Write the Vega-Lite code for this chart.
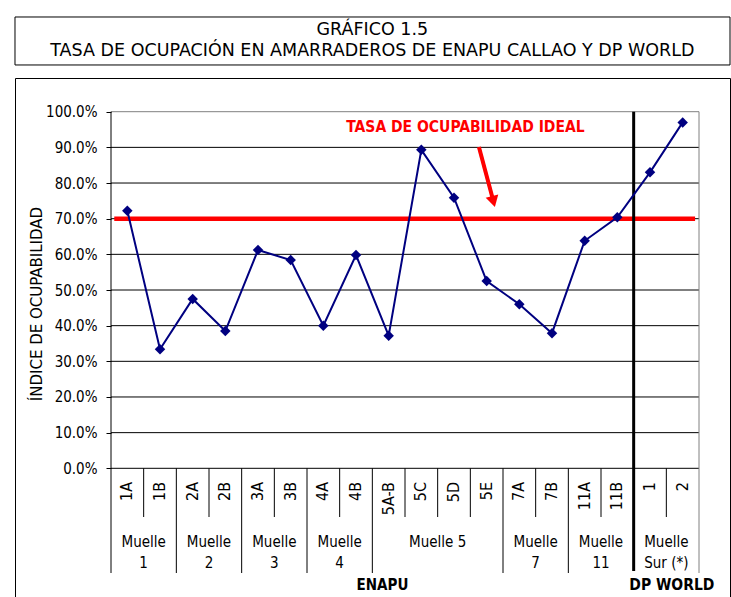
{
  "$schema": "https://vega.github.io/schema/vega-lite/v6.json",
  "autosize": {"type": "none"},
  "padding": {"left": 15, "top": 78, "right": 1, "bottom": 0},
  "config": {"view": {"stroke": "#000000", "strokeWidth": 1}, "font": "DejaVu Sans Condensed"},
  "datasets": {
    "rates": [
      {"berth": "1A", "rate": 0.722}, {"berth": "1B", "rate": 0.334},
      {"berth": "2A", "rate": 0.475}, {"berth": "2B", "rate": 0.385},
      {"berth": "3A", "rate": 0.612}, {"berth": "3B", "rate": 0.584},
      {"berth": "4A", "rate": 0.400}, {"berth": "4B", "rate": 0.598},
      {"berth": "5A-B", "rate": 0.372}, {"berth": "5C", "rate": 0.893},
      {"berth": "5D", "rate": 0.759}, {"berth": "5E", "rate": 0.525},
      {"berth": "7A", "rate": 0.460}, {"berth": "7B", "rate": 0.379},
      {"berth": "11A", "rate": 0.638}, {"berth": "11B", "rate": 0.704},
      {"berth": "1", "rate": 0.830}, {"berth": "2", "rate": 0.970}
    ]
  },
  "width": 715,
  "height": 520,
  "layer": [
    {
      "data": {"values": [{"tick": 0}, {"tick": 0.1}, {"tick": 0.2}, {"tick": 0.3}, {"tick": 0.4}, {"tick": 0.5}, {"tick": 0.6}, {"tick": 0.7}, {"tick": 0.8}, {"tick": 0.9}]},
      "mark": {"type": "rule", "color": "#000000", "strokeWidth": 1},
      "encoding": {
        "y": {"field": "tick", "type": "quantitative",
              "scale": {"domain": [-0.3637, 1.0945], "nice": false, "zero": false},
              "axis": {"values": [0, 0.1, 0.2, 0.3, 0.4, 0.5, 0.6, 0.7, 0.8, 0.9, 1], "format": ".1%", "offset": -96, "grid": false, "domain": false,
                       "tickColor": "#000000", "tickSize": 5, "labelFont": "DejaVu Sans Condensed", "labelFontSize": 15, "labelColor": "#000000", "labelPadding": 9, "title": null}},
        "x": {"datum": "1A", "type": "nominal", "bandPosition": 0, "axis": null,
              "scale": {"type": "band", "domain": ["1A", "1B", "2A", "2B", "3A", "3B", "4A", "4B", "5A-B", "5C", "5D", "5E", "7A", "7B", "11A", "11B", "1", "2"], "range": [96, 684], "paddingInner": 0, "paddingOuter": 0}},
        "x2": {"datum": "2", "bandPosition": 1}
      }
    },
    {
      "data": {"values": [{"tick": 1}]},
      "mark": {"type": "rule", "color": "#808080", "strokeWidth": 1},
      "encoding": {
        "y": {"field": "tick", "type": "quantitative"},
        "x": {"datum": "1A", "type": "nominal", "bandPosition": 0, "axis": null},
        "x2": {"datum": "2", "bandPosition": 1}
      }
    },
    {
      "data": {"values": [{"edge": "top", "level": 1.2656}, {"edge": "bottom", "level": 1.131}]},
      "mark": {"type": "rule", "color": "#000000", "strokeWidth": 1},
      "encoding": {
        "y": {"field": "level", "type": "quantitative"},
        "x": {"datum": "1A", "type": "nominal", "bandPosition": -2.939, "axis": null},
        "x2": {"datum": "2", "bandPosition": 1.949}
      }
    },
    {
      "data": {"values": [{"edge": "left"}]},
      "mark": {"type": "rule", "color": "#000000", "strokeWidth": 1},
      "encoding": {
        "x": {"datum": "1A", "type": "nominal", "bandPosition": -2.939, "axis": null},
        "y": {"datum": 1.2656, "type": "quantitative"},
        "y2": {"datum": 1.131}
      }
    },
    {
      "data": {"values": [{"edge": "right"}]},
      "mark": {"type": "rule", "color": "#000000", "strokeWidth": 1},
      "encoding": {
        "x": {"datum": "2", "type": "nominal", "bandPosition": 1.949, "axis": null},
        "y": {"datum": 1.2656, "type": "quantitative"},
        "y2": {"datum": 1.131}
      }
    },
    {
      "data": {"values": [{"title": "GRÁFICO 1.5"}]},
      "mark": {"type": "text", "align": "center", "baseline": "middle", "font": "DejaVu Sans", "fontSize": 17.5, "color": "#000000"},
      "encoding": {
        "x": {"datum": "5A-B", "type": "nominal", "bandPosition": 0, "axis": null},
        "y": {"datum": 1.2291, "type": "quantitative"},
        "text": {"field": "title"}
      }
    },
    {
      "data": {"values": [{"title": "TASA DE OCUPACIÓN EN AMARRADEROS DE ENAPU CALLAO Y DP WORLD"}]},
      "mark": {"type": "text", "align": "center", "baseline": "middle", "font": "DejaVu Sans", "fontSize": 17.5, "color": "#000000"},
      "encoding": {
        "x": {"datum": "5A-B", "type": "nominal", "bandPosition": 0, "axis": null},
        "y": {"datum": 1.1702, "type": "quantitative"},
        "text": {"field": "title"}
      }
    },
    {
      "data": {"values": [{"edge": "2"}]},
      "mark": {"type": "rule", "color": "#808080", "strokeWidth": 1},
      "encoding": {
        "x": {"field": "edge", "type": "nominal", "bandPosition": 1, "axis": null},
        "y": {"datum": 1, "type": "quantitative"},
        "y2": {"datum": -0.2936}
      }
    },
    {
      "data": {"values": [{"edge": "1A"}, {"edge": "2A"}, {"edge": "3A"}, {"edge": "4A"}, {"edge": "5A-B"}, {"edge": "7A"}, {"edge": "11A"}]},
      "mark": {"type": "rule", "color": "#000000", "strokeWidth": 1},
      "encoding": {
        "x": {"field": "edge", "type": "nominal", "bandPosition": 0, "axis": null},
        "y": {"datum": 0, "type": "quantitative"},
        "y2": {"datum": -0.2936}
      }
    },
    {
      "data": {"values": [{"edge": "1A"}]},
      "mark": {"type": "rule", "color": "#000000", "strokeWidth": 1},
      "encoding": {
        "x": {"field": "edge", "type": "nominal", "bandPosition": 0, "axis": null},
        "y": {"datum": 1, "type": "quantitative"},
        "y2": {"datum": 0}
      }
    },
    {
      "data": {"values": [{"edge": "1B"}, {"edge": "2B"}, {"edge": "3B"}, {"edge": "4B"}, {"edge": "5C"}, {"edge": "5D"}, {"edge": "5E"}, {"edge": "7B"}, {"edge": "11B"}, {"edge": "2"}]},
      "mark": {"type": "rule", "color": "#000000", "strokeWidth": 1},
      "encoding": {
        "x": {"field": "edge", "type": "nominal", "bandPosition": 0, "axis": null},
        "y": {"datum": 0, "type": "quantitative"},
        "y2": {"datum": -0.1366}
      }
    },
    {
      "data": {"values": [{"ideal": 0.7}]},
      "mark": {"type": "rule", "color": "#FF0000", "strokeWidth": 4.5},
      "encoding": {
        "y": {"field": "ideal", "type": "quantitative"},
        "x": {"datum": "1A", "type": "nominal", "bandPosition": 0.1, "axis": null},
        "x2": {"datum": "2", "bandPosition": 0.88}
      }
    },
    {
      "data": {"values": [{"edge": "1"}]},
      "mark": {"type": "rule", "color": "#000000", "strokeWidth": 3},
      "encoding": {
        "x": {"field": "edge", "type": "nominal", "bandPosition": 0, "axis": null},
        "y": {"datum": 1, "type": "quantitative"},
        "y2": {"datum": -0.288}
      }
    },
    {
      "data": {"name": "rates"},
      "mark": {"type": "line", "color": "#000080", "strokeWidth": 2},
      "encoding": {
        "x": {"field": "berth", "type": "nominal", "sort": ["1A", "1B", "2A", "2B", "3A", "3B", "4A", "4B", "5A-B", "5C", "5D", "5E", "7A", "7B", "11A", "11B", "1", "2"], "axis": null},
        "y": {"field": "rate", "type": "quantitative"}
      }
    },
    {
      "data": {"name": "rates"},
      "mark": {"type": "point", "shape": "diamond", "filled": true, "size": 110, "color": "#000080", "opacity": 1},
      "encoding": {
        "x": {"field": "berth", "type": "nominal", "sort": ["1A", "1B", "2A", "2B", "3A", "3B", "4A", "4B", "5A-B", "5C", "5D", "5E", "7A", "7B", "11A", "11B", "1", "2"], "axis": null},
        "y": {"field": "rate", "type": "quantitative"}
      }
    },
    {
      "data": {"name": "rates"},
      "mark": {"type": "text", "angle": 270, "align": "right", "baseline": "middle", "font": "DejaVu Sans Condensed", "fontSize": 16, "color": "#000000"},
      "encoding": {
        "x": {"field": "berth", "type": "nominal", "axis": null},
        "y": {"datum": -0.0384, "type": "quantitative"},
        "text": {"field": "berth"}
      }
    },
    {
      "data": {"values": [
        {"label": "Muelle\n1", "center": "1B"}, {"label": "Muelle\n2", "center": "2B"},
        {"label": "Muelle\n3", "center": "3B"}, {"label": "Muelle\n4", "center": "4B"},
        {"label": "Muelle 5", "center": "5D"}, {"label": "Muelle\n7", "center": "7B"},
        {"label": "Muelle\n11", "center": "11B"}, {"label": "Muelle\nSur (*)", "center": "2"}
      ]},
      "mark": {"type": "text", "align": "center", "baseline": "alphabetic", "lineBreak": "\n", "lineHeight": 21, "font": "DejaVu Sans Condensed", "fontSize": 15, "color": "#000000"},
      "encoding": {
        "x": {"field": "center", "type": "nominal", "bandPosition": 0, "axis": null},
        "y": {"datum": -0.2207, "type": "quantitative"},
        "text": {"field": "label"}
      }
    },
    {
      "data": {"values": [{"owner": "ENAPU"}]},
      "mark": {"type": "text", "align": "center", "baseline": "middle", "font": "DejaVu Sans Condensed", "fontWeight": "bold", "fontSize": 15, "color": "#000000"},
      "encoding": {
        "x": {"datum": "5A-B", "type": "nominal", "bandPosition": 0.31, "axis": null},
        "y": {"datum": -0.327, "type": "quantitative"},
        "text": {"field": "owner"}
      }
    },
    {
      "data": {"values": [{"owner": "DP WORLD"}]},
      "mark": {"type": "text", "align": "center", "baseline": "middle", "font": "DejaVu Sans Condensed", "fontWeight": "bold", "fontSize": 15.5, "color": "#000000"},
      "encoding": {
        "x": {"datum": "2", "type": "nominal", "bandPosition": 0.17, "axis": null},
        "y": {"datum": -0.327, "type": "quantitative"},
        "text": {"field": "owner"}
      }
    },
    {
      "data": {"values": [{"note": "TASA DE OCUPABILIDAD IDEAL"}]},
      "mark": {"type": "text", "align": "center", "baseline": "middle", "font": "DejaVu Sans Condensed", "fontWeight": "bold", "fontSize": 15.5, "color": "#FF0000"},
      "encoding": {
        "x": {"datum": "5D", "type": "nominal", "bandPosition": 0.85, "axis": null},
        "y": {"datum": 0.9557, "type": "quantitative"},
        "text": {"field": "note"}
      }
    },
    {
      "data": {"values": [{"note": "arrow"}]},
      "mark": {"type": "rule", "color": "#FF0000", "strokeWidth": 4},
      "encoding": {
        "x": {"datum": "5E", "type": "nominal", "bandPosition": 0.263, "axis": null},
        "x2": {"datum": "5E", "bandPosition": 0.68},
        "y": {"datum": 0.901, "type": "quantitative"},
        "y2": {"datum": 0.758}
      }
    },
    {
      "data": {"values": [{"note": "arrow"}]},
      "mark": {"type": "point", "shape": "triangle-down", "filled": true, "size": 169, "angle": -15, "color": "#FF0000", "opacity": 1},
      "encoding": {
        "x": {"datum": "5E", "type": "nominal", "bandPosition": 0.707, "axis": null},
        "y": {"datum": 0.748, "type": "quantitative"}
      }
    },
    {
      "data": {"values": [{"title": "ÍNDICE DE OCUPABILIDAD"}]},
      "mark": {"type": "text", "angle": 270, "align": "center", "baseline": "middle", "font": "DejaVu Sans", "fontSize": 15, "color": "#000000"},
      "encoding": {
        "x": {"datum": "1A", "type": "nominal", "bandPosition": -2.265, "axis": null},
        "y": {"datum": 0.4607, "type": "quantitative"},
        "text": {"field": "title"}
      }
    }
  ]
}
